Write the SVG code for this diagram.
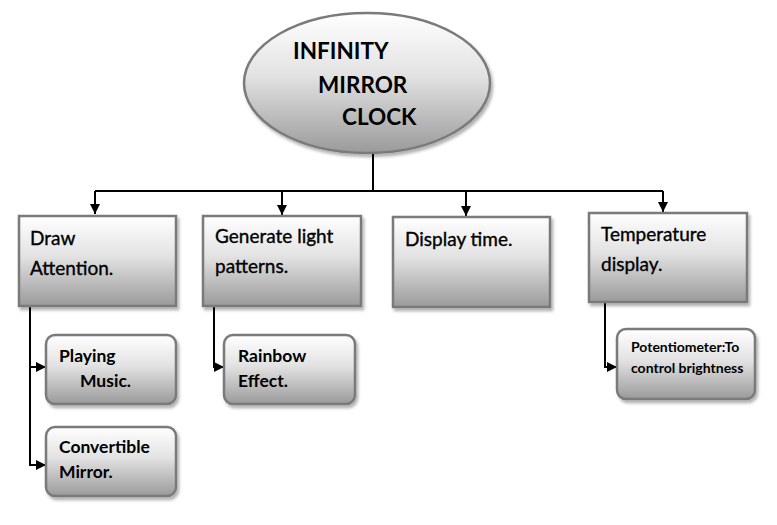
<svg xmlns="http://www.w3.org/2000/svg" width="777" height="525" viewBox="0 0 777 525">
<style>
.box{stroke:#7a7a7a;stroke-width:2.5;fill:url(#g)}
.t{font-family:Lato,"Liberation Sans",sans-serif;font-size:19px;fill:#000;stroke:#000;stroke-width:0.35}
.tb{font-family:Lato,"Liberation Sans",sans-serif;font-weight:bold;font-size:17.5px;fill:#000}
.ts{font-family:Lato,"Liberation Sans",sans-serif;font-weight:bold;font-size:14px;fill:#000}
.title{font-family:Lato,"Liberation Sans",sans-serif;font-weight:bold;font-size:22.5px;fill:#000}
.ln{stroke:#000;stroke-width:2;fill:none}
</style>
<defs>
<linearGradient id="g" x1="0" y1="0" x2="0" y2="1">
<stop offset="0" stop-color="#ffffff"/>
<stop offset="0.45" stop-color="#e2e2e2"/>
<stop offset="1" stop-color="#9a9a9a"/>
</linearGradient>
<filter id="sh" x="-10%" y="-10%" width="130%" height="130%">
<feDropShadow dx="2" dy="3" stdDeviation="1.5" flood-color="#000" flood-opacity="0.3"/>
</filter>
<marker id="ar" viewBox="0 0 10 10" refX="10" refY="5" markerWidth="5" markerHeight="5" orient="auto" markerUnits="strokeWidth">
<path d="M0,0 L10,5 L0,10 z" fill="#000"/>
</marker>
</defs>
<rect width="777" height="525" fill="#fff"/>
<g id="connectors">
<path class="ln" d="M373,153 V191"/>
<path class="ln" d="M95,191 H663"/>
<path class="ln" d="M95,191 V214" marker-end="url(#ar)"/>
<path class="ln" d="M282,191 V215" marker-end="url(#ar)"/>
<path class="ln" d="M466,191 V216" marker-end="url(#ar)"/>
<path class="ln" d="M663,191 V212" marker-end="url(#ar)"/>
<path class="ln" d="M30,307 V465 H46" marker-end="url(#ar)"/>
<path class="ln" d="M30,367 H46" marker-end="url(#ar)"/>
<path class="ln" d="M214,307 V367 H224" marker-end="url(#ar)"/>
<path class="ln" d="M605,302 V367 H617" marker-end="url(#ar)"/>
</g>
<g id="root">
<ellipse cx="367" cy="83" rx="123" ry="70" class="box" filter="url(#sh)"/>
<text class="title" x="293" y="59">INFINITY</text>
<text class="title" x="318" y="93">MIRROR</text>
<text class="title" x="342" y="125">CLOCK</text>
</g>
<g id="draw">
<rect x="19" y="216" width="157" height="90" class="box" filter="url(#sh)"/>
<text class="t" x="30" y="245">Draw</text>
<text class="t" x="30" y="275">Attention.</text>
</g>
<g id="generate">
<rect x="203" y="216" width="158" height="90" class="box" filter="url(#sh)"/>
<text class="t" x="215" y="243">Generate light</text>
<text class="t" x="215" y="273">patterns.</text>
</g>
<g id="display">
<rect x="393" y="217" width="157" height="90" class="box" filter="url(#sh)"/>
<text class="t" x="405" y="246">Display time.</text>
</g>
<g id="temperature">
<rect x="589" y="213" width="158" height="89" class="box" filter="url(#sh)"/>
<text class="t" x="601" y="241">Temperature</text>
<text class="t" x="601" y="271">display.</text>
</g>
<g id="playing">
<rect x="46" y="335" width="130" height="69" rx="9" class="box" filter="url(#sh)"/>
<text class="tb" x="59" y="362">Playing</text>
<text class="tb" x="80" y="387">Music.</text>
</g>
<g id="convertible">
<rect x="46" y="427" width="130" height="69" rx="9" class="box" filter="url(#sh)"/>
<text class="tb" x="59" y="453">Convertible</text>
<text class="tb" x="59" y="478">Mirror.</text>
</g>
<g id="rainbow">
<rect x="224" y="335" width="131" height="69" rx="9" class="box" filter="url(#sh)"/>
<text class="tb" x="238" y="362">Rainbow</text>
<text class="tb" x="238" y="387">Effect.</text>
</g>
<g id="potentiometer">
<rect x="617" y="329" width="138" height="70" rx="9" class="box" filter="url(#sh)"/>
<text class="ts" x="631" y="352">Potentiometer:To</text>
<text class="ts" x="631" y="373">control brightness</text>
</g>
</svg>
